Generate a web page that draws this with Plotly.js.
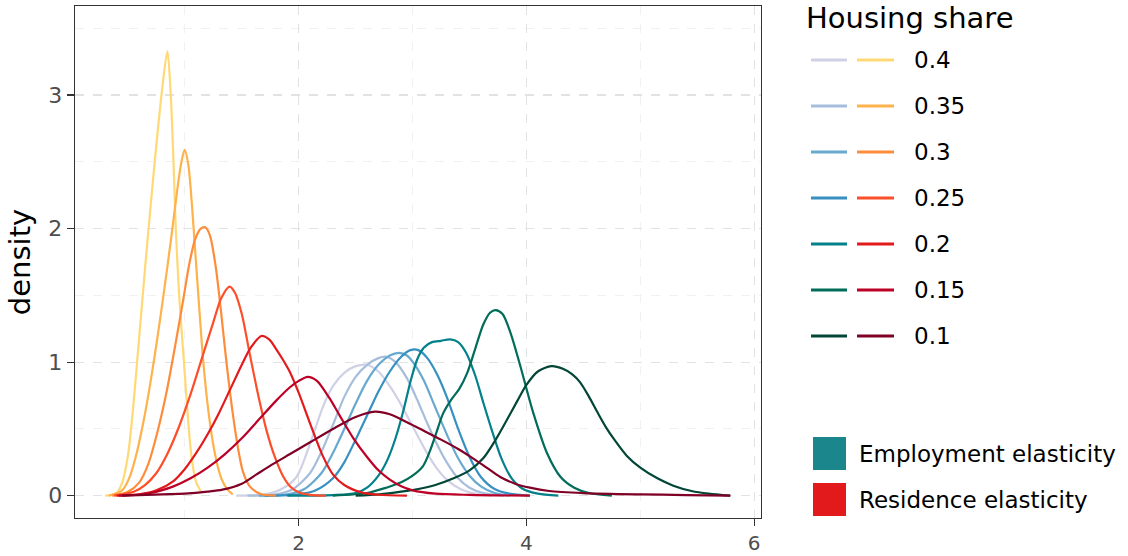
<!DOCTYPE html>
<html><head><meta charset="utf-8">
<script src="https://cdn.plot.ly/plotly-3.0.1.min.js"></script>
<style>html,body{margin:0;padding:0;background:#fff}#chart{width:1128px;height:556px}</style>
</head><body><div id="chart"></div>
<script>
// ---------- data ----------
const shares = ['0.4', '0.35', '0.3', '0.25', '0.2', '0.15', '0.1'];
const groups = ['Employment elasticity', 'Residence elasticity'];
const empColors = ['#d0d1e6', '#a6bddb', '#67a9cf', '#3690c0', '#02818a', '#016c59', '#014636'];
const resColors = ['#fed976', '#feb24c', '#fd8d3c', '#fc4e2a', '#e31a1c', '#bd0026', '#800026'];
const groupColors = ['#1b878c', '#e31a1c'];

// Employment elasticity densities
const emp04_x = [1.45, 1.7, 1.85, 1.98, 2.1, 2.21, 2.3, 2.4, 2.5, 2.6, 2.7, 2.8, 2.9, 3.0, 3.1, 3.2, 3.3, 3.42, 3.55, 3.7];
const emp04_y = [0, 0.01, 0.05, 0.14, 0.39, 0.66, 0.82, 0.92, 0.97, 0.98, 0.93, 0.82, 0.68, 0.52, 0.36, 0.22, 0.12, 0.05, 0.015, 0];
const emp035_x = [1.55, 1.8, 1.95, 2.1, 2.2, 2.3, 2.4, 2.5, 2.6, 2.7, 2.77, 2.85, 2.95, 3.05, 3.12, 3.2, 3.3, 3.4, 3.5, 3.62, 3.8];
const emp035_y = [0, 0.01, 0.05, 0.17, 0.33, 0.53, 0.74, 0.89, 0.98, 1.03, 1.04, 1.0, 0.88, 0.7, 0.56, 0.41, 0.25, 0.13, 0.06, 0.02, 0];
const emp03_x = [1.65, 1.9, 2.05, 2.2, 2.3, 2.4, 2.5, 2.6, 2.7, 2.8, 2.88, 2.95, 3.02, 3.1, 3.2, 3.3, 3.4, 3.5, 3.6, 3.72, 3.85];
const emp03_y = [0, 0.01, 0.05, 0.17, 0.32, 0.5, 0.69, 0.86, 0.98, 1.05, 1.07, 1.05, 0.98, 0.86, 0.66, 0.46, 0.28, 0.15, 0.07, 0.02, 0];
const emp025_x = [1.7, 2.0, 2.15, 2.3, 2.4, 2.5, 2.6, 2.7, 2.8, 2.9, 2.98, 3.05, 3.13, 3.22, 3.3, 3.4, 3.5, 3.6, 3.72, 3.85, 4.03];
const emp025_y = [0, 0.01, 0.04, 0.13, 0.25, 0.42, 0.6, 0.78, 0.93, 1.04, 1.09, 1.09, 1.03, 0.9, 0.74, 0.5, 0.29, 0.14, 0.05, 0.015, 0];
const emp02_x = [1.9, 2.3, 2.5, 2.6, 2.7, 2.78, 2.85, 2.92, 2.98, 3.04, 3.1, 3.17, 3.25, 3.33, 3.4, 3.47, 3.55, 3.62, 3.7, 3.78, 3.87, 3.97, 4.1, 4.28];
const emp02_y = [0, 0.005, 0.02, 0.06, 0.15, 0.27, 0.43, 0.64, 0.85, 1.02, 1.11, 1.15, 1.16, 1.17, 1.15, 1.07, 0.9, 0.7, 0.48, 0.28, 0.13, 0.05, 0.015, 0];
const emp015_x = [2.3, 2.6, 2.77, 2.9, 3.0, 3.09, 3.15, 3.2, 3.27, 3.34, 3.41, 3.48, 3.55, 3.62, 3.68, 3.73, 3.79, 3.86, 3.94, 4.06, 4.18, 4.3, 4.42, 4.55, 4.75];
const emp015_y = [0, 0.02, 0.06, 0.1, 0.15, 0.22, 0.33, 0.45, 0.62, 0.72, 0.8, 0.92, 1.1, 1.28, 1.37, 1.39, 1.36, 1.22, 0.99, 0.62, 0.32, 0.14, 0.06, 0.02, 0];
const emp01_x = [2.5, 2.71, 2.9, 3.05, 3.2, 3.36, 3.5, 3.62, 3.73, 3.83, 3.92, 4.0, 4.1, 4.22, 4.32, 4.4, 4.47, 4.55, 4.62, 4.7, 4.78, 4.88, 5.0, 5.15, 5.29, 5.45, 5.6, 5.79];
const emp01_y = [0, 0.01, 0.03, 0.05, 0.08, 0.13, 0.19, 0.28, 0.42, 0.57, 0.71, 0.83, 0.93, 0.97, 0.95, 0.91, 0.85, 0.74, 0.63, 0.51, 0.41, 0.3, 0.21, 0.13, 0.075, 0.035, 0.015, 0];

// Residence elasticity densities
const res04_x = [0.3, 0.4, 0.45, 0.5, 0.55, 0.6, 0.65, 0.7, 0.75, 0.8, 0.846, 0.875, 0.9, 0.92, 0.95, 0.99, 1.03, 1.06, 1.1, 1.15];
const res04_y = [0, 0.02, 0.1, 0.3, 0.7, 1.2, 1.7, 2.18, 2.63, 3.04, 3.33, 3.02, 2.5, 2.0, 1.5, 1.02, 0.55, 0.28, 0.1, 0.02];
const res035_x = [0.33, 0.45, 0.52, 0.58, 0.64, 0.7, 0.76, 0.82, 0.88, 0.93, 0.97, 0.998, 1.03, 1.06, 1.095, 1.13, 1.16, 1.2, 1.24, 1.28, 1.32, 1.37, 1.42];
const res035_y = [0, 0.04, 0.15, 0.33, 0.57, 0.86, 1.19, 1.55, 1.93, 2.27, 2.5, 2.59, 2.48, 2.2, 1.78, 1.36, 1.02, 0.68, 0.43, 0.25, 0.13, 0.05, 0.01];
const res03_x = [0.36, 0.5, 0.6, 0.68, 0.76, 0.84, 0.91, 0.98, 1.04, 1.09, 1.14, 1.18, 1.22, 1.27, 1.32, 1.36, 1.42, 1.47, 1.51, 1.57, 1.66, 1.8];
const res03_y = [0, 0.03, 0.1, 0.24, 0.48, 0.78, 1.1, 1.44, 1.74, 1.92, 2.0, 2.01, 1.95, 1.72, 1.36, 1.04, 0.62, 0.34, 0.18, 0.07, 0.015, 0];
const res025_x = [0.38, 0.55, 0.65, 0.75, 0.85, 0.95, 1.05, 1.15, 1.25, 1.32, 1.393, 1.44, 1.5, 1.57, 1.65, 1.72, 1.79, 1.86, 1.93, 2.0, 2.1, 2.24];
const res025_y = [0, 0.03, 0.08, 0.17, 0.32, 0.52, 0.76, 1.03, 1.3, 1.48, 1.566, 1.52, 1.36, 1.06, 0.73, 0.48, 0.29, 0.15, 0.065, 0.025, 0.006, 0];
const res02_x = [0.4, 0.6, 0.75, 0.9, 1.0, 1.1, 1.2, 1.3, 1.4, 1.5, 1.58, 1.672, 1.74, 1.8, 1.86, 1.92, 2.0, 2.1, 2.21, 2.3, 2.4, 2.55, 2.7, 2.95];
const res02_y = [0, 0.01, 0.04, 0.11, 0.2, 0.32, 0.46, 0.62, 0.8, 0.98, 1.11, 1.196, 1.17, 1.1, 1.02, 0.93, 0.77, 0.54, 0.3, 0.16, 0.08, 0.025, 0.007, 0];
const res015_x = [0.42, 0.7, 0.9, 1.05, 1.2, 1.35, 1.5, 1.65, 1.8, 1.92, 2.0, 2.08, 2.16, 2.27, 2.36, 2.48, 2.6, 2.7, 2.8, 2.9, 3.0, 3.2, 3.5, 4.03];
const res015_y = [0, 0.02, 0.07, 0.13, 0.21, 0.31, 0.43, 0.57, 0.71, 0.81, 0.86, 0.89, 0.86, 0.73, 0.6, 0.43, 0.29, 0.19, 0.12, 0.07, 0.04, 0.015, 0.006, 0];
const res01_x = [0.45, 0.8, 1.0, 1.2, 1.33, 1.5, 1.63, 1.78, 1.92, 2.1, 2.3, 2.5, 2.67, 2.8, 2.95, 3.09, 3.25, 3.4, 3.53, 3.65, 3.77, 3.9, 4.03, 4.2, 4.5, 5.0, 5.4, 5.79];
const res01_y = [0, 0.01, 0.015, 0.03, 0.045, 0.09, 0.16, 0.24, 0.31, 0.4, 0.5, 0.59, 0.63, 0.61, 0.55, 0.49, 0.42, 0.35, 0.28, 0.21, 0.14, 0.09, 0.06, 0.035, 0.02, 0.01, 0.005, 0];

const xTicks = [2, 4, 6];
const yTicks = [0, 1, 2, 3];

// ---------- build ----------
const empSeries = [[emp04_x, emp04_y], [emp035_x, emp035_y], [emp03_x, emp03_y], [emp025_x, emp025_y], [emp02_x, emp02_y], [emp015_x, emp015_y], [emp01_x, emp01_y]];
const resSeries = [[res04_x, res04_y], [res035_x, res035_y], [res03_x, res03_y], [res025_x, res025_y], [res02_x, res02_y], [res015_x, res015_y], [res01_x, res01_y]];

const traces = [];
empSeries.forEach((s, i) => traces.push({
  type: 'scatter', mode: 'lines', x: s[0], y: s[1], name: groups[0] + ' ' + shares[i],
  line: {color: empColors[i], width: 2.2, shape: 'spline', smoothing: 0.8}, showlegend: false, hoverinfo: 'x+y+name'
}));
resSeries.forEach((s, i) => traces.push({
  type: 'scatter', mode: 'lines', x: s[0], y: s[1], name: groups[1] + ' ' + shares[i],
  line: {color: resColors[i], width: 2.2, shape: 'spline', smoothing: 0.8}, showlegend: false, hoverinfo: 'x+y+name'
}));

const FONT = 'DejaVu Sans, Verdana, sans-serif';
const L = 75, R = 761, T = 6, B = 518;
const px = p => (p - L) / (R - L);
const py = p => (B - p) / (B - T);

const shapes = [];
const annotations = [];
annotations.push({xref: 'paper', yref: 'paper', x: px(804), y: py(18), xanchor: 'left', yanchor: 'middle',
  text: 'Housing share', showarrow: false, font: {family: FONT, size: 29, color: '#000'}});
shares.forEach((s, i) => {
  const yc = 60 + i * 46;
  shapes.push({type: 'line', xref: 'paper', yref: 'paper', x0: px(811), x1: px(847), y0: py(yc), y1: py(yc), line: {color: empColors[i], width: 3}});
  shapes.push({type: 'line', xref: 'paper', yref: 'paper', x0: px(857), x1: px(894), y0: py(yc), y1: py(yc), line: {color: resColors[i], width: 3}});
  annotations.push({xref: 'paper', yref: 'paper', x: px(912), y: py(yc), xanchor: 'left', yanchor: 'middle',
    text: s, showarrow: false, font: {family: FONT, size: 23, color: '#000'}});
});
groups.forEach((g, i) => {
  const yc = 453.5 + i * 46;
  shapes.push({type: 'rect', xref: 'paper', yref: 'paper', x0: px(813), x1: px(846), y0: py(yc - 16.5), y1: py(yc + 16.5), fillcolor: groupColors[i], line: {width: 0}});
  annotations.push({xref: 'paper', yref: 'paper', x: px(857), y: py(yc), xanchor: 'left', yanchor: 'middle',
    text: g, showarrow: false, font: {family: FONT, size: 23, color: '#000'}});
});

const axisCommon = {
  ticks: 'outside', ticklen: 7, tickwidth: 1.3, tickcolor: '#333',
  showline: true, linecolor: '#333', linewidth: 1.3, mirror: true,
  showgrid: true, gridcolor: '#e2e2e2', gridwidth: 1.3, griddash: 'dash',
  zeroline: false, tickfont: {family: FONT, size: 22, color: '#4d4d4d'}
};

const layout = {
  width: 1128, height: 556,
  margin: {l: L, r: 1128 - R, t: T, b: 556 - B},
  paper_bgcolor: '#fff', plot_bgcolor: '#fff',
  showlegend: false,
  xaxis: Object.assign({}, axisCommon, {
    range: [0.035, 6.06], tickvals: xTicks, ticktext: xTicks.map(String),
    tickfont: {family: FONT, size: 20, color: '#4d4d4d'},
    minor: {tickvals: [1, 3, 5], showgrid: true, gridcolor: '#efefef', gridwidth: 0.9, griddash: 'dash', ticks: ''}
  }),
  yaxis: Object.assign({}, axisCommon, {
    range: [-0.167, 3.667], tickvals: yTicks, ticktext: yTicks.map(String),
    minor: {tickvals: [0.5, 1.5, 2.5, 3.5], showgrid: true, gridcolor: '#efefef', gridwidth: 0.9, griddash: 'dash', ticks: ''},
    title: {text: 'density', font: {family: FONT, size: 29, color: '#000'}, standoff: 9}
  }),
  shapes: shapes, annotations: annotations
};

Plotly.newPlot('chart', traces, layout, {displayModeBar: false, staticPlot: true});
</script>
</body></html>
